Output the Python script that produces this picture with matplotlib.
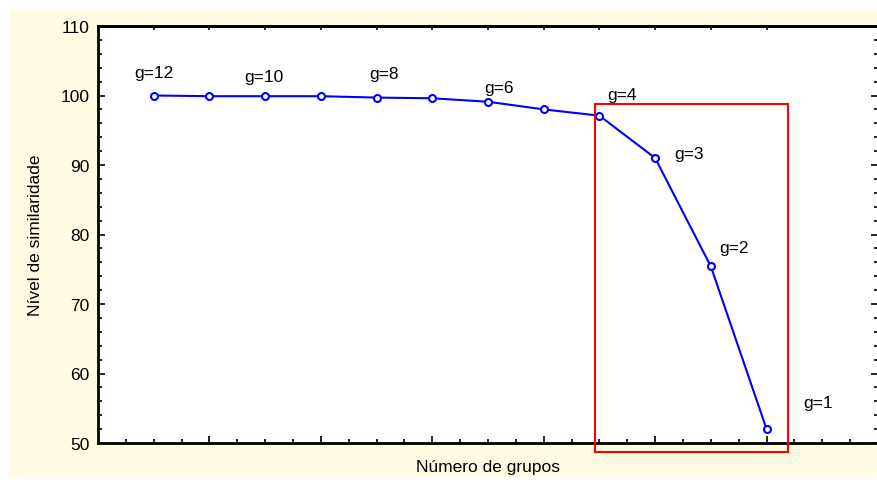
import numpy as np
import matplotlib.pyplot as plt
from matplotlib.patches import Rectangle

plt.rcParams['font.family'] = ['Liberation Sans', 'DejaVu Sans']

# data
grupos = [12, 11, 10, 9, 8, 7, 6, 5, 4, 3, 2, 1]
similaridade = [100.0, 99.9, 99.9, 99.9, 99.7, 99.6, 99.1, 98.0, 97.1, 91.0, 75.4, 52.0]
rotulos = {12: 'g=12', 10: 'g=10', 8: 'g=8', 6: 'g=6', 4: 'g=4', 3: 'g=3', 2: 'g=2', 1: 'g=1'}
# label offsets in points (dx, dy) from the marker
offsets = {12: (0, 16.5), 10: (-1, 14.5), 8: (5, 17), 6: (8, 10), 4: (16.5, 15.5),
           3: (24.5, 3), 2: (16.5, 13.7), 1: (37, 19.5)}

x = np.arange(1, len(grupos) + 1)

fig = plt.figure(figsize=(8.78, 4.81), dpi=100)
fig.patch.set_facecolor('white')
fig.patches.append(Rectangle((9/878, 3/481), 869/878, 468/481, transform=fig.transFigure,
                             facecolor='#fffce2', edgecolor='none', zorder=-10))

ax = fig.add_axes([98/878, 37/481, 780/878, 417/481])
ax.set_facecolor('white')

ax.plot(x, similaridade, color='#0000ff', lw=1.5, marker='o', ms=5,
        mfc='white', mec='#0000ff', mew=1.5, clip_on=False, zorder=3)

for xi, g, yi in zip(x, grupos, similaridade):
    if g in rotulos:
        dx, dy = offsets[g]
        ax.annotate(rotulos[g], (xi, yi), xytext=(dx, dy), textcoords='offset points',
                    ha='center', va='center', fontsize=12.5)

# red box around the last four groups
i0 = grupos.index(4)
i1 = grupos.index(1)
ax.add_patch(Rectangle((x[i0] - 0.08, 48.7), x[i1] - x[i0] + 0.46, 50.1,
                       fill=False, edgecolor='#ff0000', lw=1.5, clip_on=False, zorder=4))

ax.set_xlim(0, 14)
ax.set_ylim(50, 110)
ax.set_xticks(np.arange(2, 14, 2))
ax.set_xticks(np.arange(0.5, 14, 0.5), minor=True)
ax.set_yticks(np.arange(50, 111, 10))
ax.set_yticks(np.arange(50, 111, 2), minor=True)
ax.set_xticklabels([])

ax.tick_params(which='both', direction='in', top=False, right=True, labelsize=12.5, width=1.2)
ax.tick_params(which='major', length=5, pad=6)
ax.tick_params(which='minor', length=3)

# top ticks at each group
top = ax.secondary_xaxis('top')
top.set_xticks(x)
top.set_xticklabels([])
top.tick_params(direction='in', length=3, width=1.2)
top.spines['top'].set_linewidth(2)

for s in ['left', 'bottom', 'top']:
    ax.spines[s].set_linewidth(2)
ax.spines['right'].set_visible(False)

ax.set_xlabel('Número de grupos', fontsize=12.5, labelpad=5.5)
ax.set_ylabel('Nível de similaridade', fontsize=12.5, labelpad=13)

plt.savefig('out.png', dpi=100)
